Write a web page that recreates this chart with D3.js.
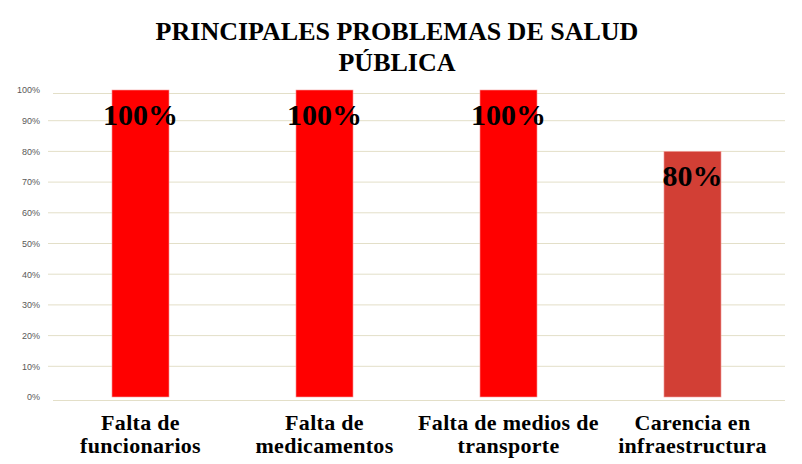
<!DOCTYPE html>
<html>
<head>
<meta charset="utf-8">
<script src="https://cdn.jsdelivr.net/npm/d3@7"></script>
<style>
  body { margin: 0; background: #fff; }
  svg { display: block; }
</style>
</head>
<body>
<svg id="chart" width="802" height="464"></svg>
<script>
const titleLines = ['PRINCIPALES PROBLEMAS DE SALUD', 'PÚBLICA'];
const categories = [
  ['Falta de', 'funcionarios'],
  ['Falta de', 'medicamentos'],
  ['Falta de medios de', 'transporte'],
  ['Carencia en', 'infraestructura'],
];
const values = [1, 1, 1, 0.8];
const barColors = ['#ff0000', '#ff0000', '#ff0000', '#d23f35'];
const yTicks = [0, 0.1, 0.2, 0.3, 0.4, 0.5, 0.6, 0.7, 0.8, 0.9, 1];

const svg = d3.select('#chart');
const serif = '"Liberation Serif", "Times New Roman", serif';

const x = d3.scaleBand()
  .domain(d3.range(categories.length))
  .range([48.5, 784.5])
  .paddingInner(0.69)
  .paddingOuter(0.345);

const y = d3.scaleLinear()
  .domain([0, 1])
  .range([397, 90]);

// gridlines (first and last sit a little off the ticks, as in the original)
svg.append('g')
  .selectAll('line')
  .data(yTicks)
  .join('line')
  .attr('x1', (d) => (d === 0 || d === 1 ? 53 : 48))
  .attr('x2', 785)
  .attr('y1', (d) => y(d) + (d === 0 || d === 1 ? 3.5 : 0))
  .attr('y2', (d) => y(d) + (d === 0 || d === 1 ? 3.5 : 0))
  .attr('stroke', '#e3dfc8')
  .attr('stroke-width', 1);

// y axis labels
const yAxis = d3.axisLeft(y)
  .tickValues(yTicks)
  .tickFormat(d3.format('.0%'))
  .tickSize(0)
  .tickPadding(0);

svg.append('g')
  .attr('transform', 'translate(40,0)')
  .call(yAxis)
  .call((g) => g.select('.domain').remove())
  .call((g) => g.selectAll('text')
    .style('fill', '#595959')
    .style('font-family', '"Liberation Sans", Arial, sans-serif')
    .style('font-size', '9px'));

// bars
svg.append('g')
  .selectAll('rect')
  .data(values)
  .join('rect')
  .attr('x', (d, i) => x(i))
  .attr('y', (d) => y(d))
  .attr('width', x.bandwidth())
  .attr('height', (d) => y(0) - y(d))
  .attr('fill', (d, i) => barColors[i])
  .attr('stroke', '#f4a0a0')
  .attr('stroke-width', 0.6);

// value labels
svg.append('g')
  .selectAll('text')
  .data(values)
  .join('text')
  .attr('x', (d, i) => x(i) + x.bandwidth() / 2)
  .attr('y', (d) => y(d) + 34.5)
  .attr('text-anchor', 'middle')
  .style('font-family', serif)
  .style('font-weight', 'bold')
  .style('font-size', '30px')
  .style('fill', '#000')
  .text((d) => d3.format('.0%')(d));

// category labels
const xLabels = svg.append('g')
  .selectAll('text')
  .data(categories)
  .join('text')
  .attr('x', (d, i) => x(i) + x.bandwidth() / 2)
  .attr('y', 430)
  .attr('text-anchor', 'middle')
  .style('font-family', serif)
  .style('font-weight', 'bold')
  .style('font-size', '22px')
  .style('letter-spacing', '0.3px')
  .style('fill', '#000');

xLabels.selectAll('tspan')
  .data((d) => d)
  .join('tspan')
  .attr('x', function () { return d3.select(this.parentNode).attr('x'); })
  .attr('dy', (d, i) => (i === 0 ? 0 : 22.5))
  .text((d) => d);

// title
svg.append('text')
  .attr('x', 397)
  .attr('y', 39.5)
  .attr('text-anchor', 'middle')
  .style('font-family', serif)
  .style('font-weight', 'bold')
  .style('font-size', '26px')
  .style('fill', '#000')
  .selectAll('tspan')
  .data(titleLines)
  .join('tspan')
  .attr('x', 397)
  .attr('dy', (d, i) => (i === 0 ? 0 : 31))
  .text((d) => d);
</script>
</body>
</html>
